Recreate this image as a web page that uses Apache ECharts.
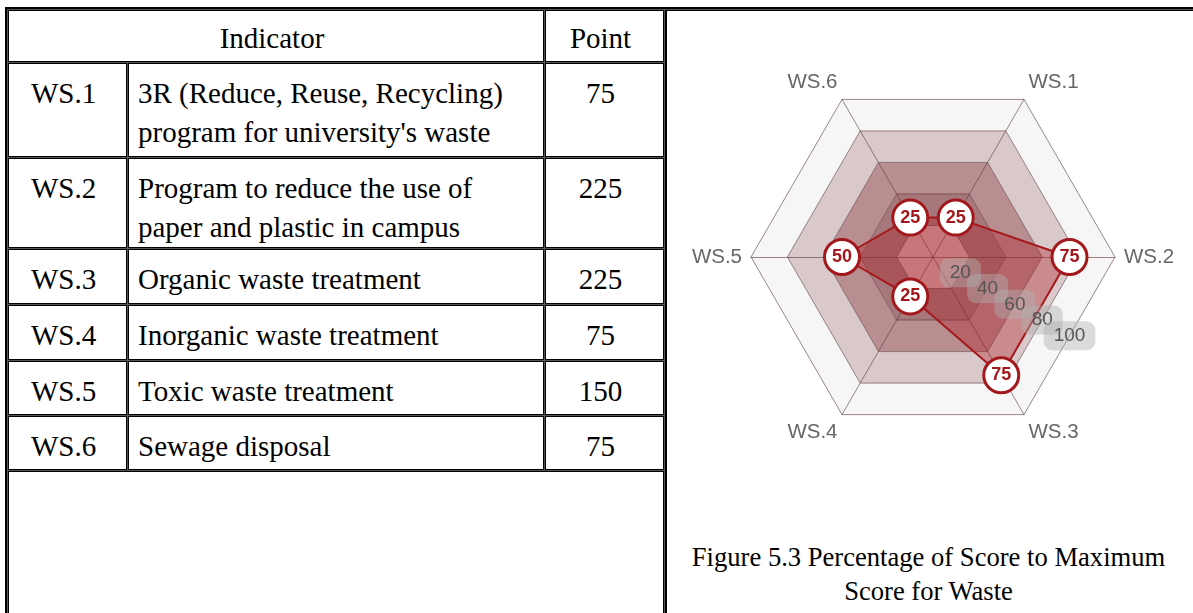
<!DOCTYPE html>
<html>
<head>
<meta charset="utf-8">
<script src="https://cdn.jsdelivr.net/npm/echarts@6/dist/echarts.min.js"></script>
<style>
  html, body { margin: 0; padding: 0; background: #fff; }
  body { width: 1193px; height: 613px; overflow: hidden; position: relative; }
  .frame { position: absolute; left: 5px; top: 7px; width: 662px; height: 700px;
           border: 2px solid #000; box-sizing: border-box; background: #555; }
  .topline { position: absolute; left: 665px; top: 7px; width: 540px; height: 1px;
             border-top: 2px solid #000; border-bottom: 1px solid #000; background: #555; }
  .cell { position: absolute; box-sizing: border-box; border: 1px solid #000; background: #fff;
          font-family: 'Liberation Serif', 'Times New Roman', serif; font-size: 29px;
          line-height: 39px; color: #000; padding-top: 10px; white-space: pre-line; }
  .c { text-align: center; padding-right: 8px; }
  .l { text-align: left; padding-left: 9px; }
  .hdr { padding-top: 8px; }
  #chart { position: absolute; left: 667px; top: 11px; width: 526px; height: 520px; }
  .caption { position: absolute; left: 665px; top: 540px; width: 527px; text-align: center;
             font-family: 'Liberation Serif', 'Times New Roman', serif; font-size: 26.6px;
             line-height: 34px; color: #000; }
</style>
</head>
<body>
<div class="frame"></div>
<div class="topline"></div>
<div id="cells"></div>
<div id="chart"></div>
<div class="caption">Figure 5.3 Percentage of Score to Maximum<br>Score for Waste</div>
<script>
// ---- data ----
const categories = ['WS.1', 'WS.2', 'WS.3', 'WS.4', 'WS.5', 'WS.6'];
const descriptions = [
  "3R (Reduce, Reuse, Recycling)\nprogram for university's waste",
  "Program to reduce the use of\npaper and plastic in campus",
  "Organic waste treatment",
  "Inorganic waste treatment",
  "Toxic waste treatment",
  "Sewage disposal"
];
const points = [75, 225, 225, 75, 150, 75];
const headers = ['Indicator', 'Point'];
const percentages = [25, 75, 75, 25, 50, 25];   // % of maximum score, per category
const radarMax = 100;
const radarSplits = 5;

// ---- table layout ----
const colX = [[8, 127], [128, 544], [545, 664]];
const rowY = [[10, 62], [63, 157], [158, 248], [249, 304], [305, 360], [361, 415], [416, 470]];
const cellsEl = document.getElementById('cells');
function addCell(x0, x1, y0, y1, text, cls) {
  const d = document.createElement('div');
  d.className = 'cell ' + cls;
  d.style.left = x0 + 'px'; d.style.top = y0 + 'px';
  d.style.width = (x1 - x0) + 'px'; d.style.height = (y1 - y0) + 'px';
  d.textContent = text;
  cellsEl.appendChild(d);
}
addCell(colX[0][0], colX[1][1], rowY[0][0], rowY[0][1], headers[0], 'c hdr');
addCell(colX[2][0], colX[2][1], rowY[0][0], rowY[0][1], headers[1], 'c hdr');
categories.forEach((cat, i) => {
  const [y0, y1] = rowY[i + 1];
  addCell(colX[0][0], colX[0][1], y0, y1, cat, 'c');
  addCell(colX[1][0], colX[1][1], y0, y1, descriptions[i], 'l');
  addCell(colX[2][0], colX[2][1], y0, y1, String(points[i]), 'c');
});
addCell(colX[0][0], colX[2][1], 471, 720, '', 'l');

// ---- radar ----
// ECharts lays indicators counter-clockwise from startAngle; WS.1 sits at 60deg,
// WS.2 at 0deg (clockwise in the reference), so reorder.
const order = [0, 5, 4, 3, 2, 1];
const topNames = ['WS.1', 'WS.6'];
const bottomNames = ['WS.3', 'WS.4'];
const lineColor = '#a3181c';
const gridColor = 'rgba(90,55,58,0.6)';
const ringColors = ['#d6a9aa', '#a6787b', '#b88e91', '#d9c9cb', '#f6f6f6'];
const labelFont = 'Liberation Sans, Arial, sans-serif';
const tickBox = {
  color: '#555', fontSize: 19, fontFamily: labelFont,
  backgroundColor: 'rgba(175,175,175,0.45)', borderRadius: 9, padding: [5, 10]
};
const tickLabelStyle = Object.assign({
  show: true, showMinLabel: false, showMaxLabel: false,
  margin: 0, align: 'center', verticalAlign: 'middle'
}, tickBox);
const maxLabelStyle = {
  show: true, showMinLabel: false, showMaxLabel: true,
  margin: 0, align: 'center', verticalAlign: 'middle',
  formatter: v => (v === radarMax ? '{b|' + v + '}' : ''),
  rich: { b: tickBox }
};
function labelRadar(style, z) {
  return {
    center: [266, 246],
    radius: 182 * Math.cos(Math.PI / 6),   // mid-edge between WS.2 and WS.3
    startAngle: -30,
    splitNumber: radarSplits,
    shape: 'polygon',
    z: z,
    axisName: { show: false },
    indicator: order.map((i, k) => k === 0
      ? { name: '', min: 0, max: radarMax, axisLabel: style }
      : { name: '', min: 0, max: radarMax }),
    splitArea: { show: false },
    splitLine: { show: false },
    axisLine: { show: false },
    axisTick: { show: false },
    axisLabel: { show: false }
  };
}

const chart = echarts.init(document.getElementById('chart'), null, { renderer: 'canvas' });
chart.setOption({
  animation: false,
  radar: [
    {
      center: [266, 246],
      radius: 182,
      startAngle: 60,
      splitNumber: radarSplits,
      shape: 'polygon',
      nameGap: 9,
      axisName: {
        color: '#666', fontSize: 20.5, fontFamily: labelFont,
        formatter: name => topNames.includes(name) ? '{t|' + name + '}'
                         : bottomNames.includes(name) ? '{b|' + name + '}' : name,
        rich: {
          t: { color: '#666', fontSize: 20.5, fontFamily: labelFont, padding: [0, 0, 19, 0] },
          b: { color: '#666', fontSize: 20.5, fontFamily: labelFont, padding: [19, 0, 0, 0] }
        }
      },
      indicator: order.map(i => ({ name: categories[i], min: 0, max: radarMax })),
      splitArea: { show: true, areaStyle: { color: ringColors } },
      splitLine: { lineStyle: { color: gridColor, width: 1 } },
      axisLine: { lineStyle: { color: gridColor, width: 1 } },
      axisTick: { show: false },
      axisLabel: { show: false }
    },
    labelRadar(tickLabelStyle, 10),
    labelRadar(maxLabelStyle, 11)
  ],
  series: [{
    type: 'radar',
    radarIndex: 0,
    symbol: 'circle',
    symbolSize: 35,
    z: 3,
    itemStyle: { color: '#fff', borderColor: lineColor, borderWidth: 3 },
    lineStyle: { color: lineColor, width: 2 },
    areaStyle: { color: 'rgba(175,25,30,0.5)' },
    label: { show: true, position: 'inside', color: lineColor, fontSize: 18, fontWeight: 'bold',
             fontFamily: labelFont },
    emphasis: { disabled: true },
    data: [{ value: order.map(i => percentages[i]), name: 'Score' }]
  }]
});
</script>
</body>
</html>
